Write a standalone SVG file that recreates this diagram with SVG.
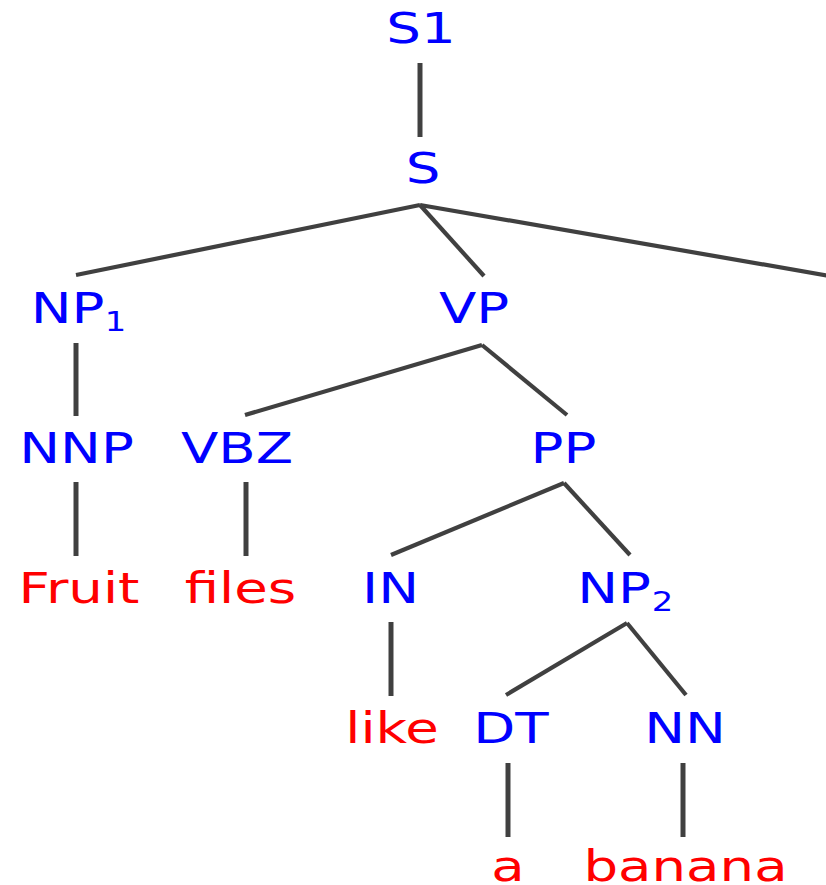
<svg xmlns="http://www.w3.org/2000/svg" width="826" height="885" viewBox="0 0 826 885">
<style>
text{font-family:"DejaVu Sans","Liberation Sans",sans-serif;font-size:42px;text-anchor:middle}
.nt text{fill:#0000ff}
.w text{fill:#ff0000}
text.sub{font-size:26px}
#edges line{stroke:#404040;stroke-width:5;stroke-linecap:butt}
#edges line.d{stroke-width:4.2}
</style>
<rect width="826" height="885" fill="#ffffff"/>
<g id="edges">
<line x1="420" y1="63" x2="420" y2="137"/>
<line class="d" x1="420" y1="205" x2="76" y2="275"/>
<line class="d" x1="420" y1="205" x2="484" y2="276"/>
<line class="d" x1="420" y1="205" x2="830" y2="276"/>
<line x1="76" y1="343" x2="76" y2="416"/>
<line class="d" x1="482" y1="345" x2="245" y2="415"/>
<line class="d" x1="482" y1="345" x2="567" y2="415"/>
<line x1="76" y1="482" x2="76" y2="556"/>
<line x1="246" y1="482" x2="246" y2="556"/>
<line class="d" x1="564" y1="483" x2="391" y2="555"/>
<line class="d" x1="564" y1="483" x2="630" y2="555"/>
<line x1="391" y1="622" x2="391" y2="696"/>
<line class="d" x1="627" y1="623" x2="506" y2="695"/>
<line class="d" x1="627" y1="623" x2="686" y2="695"/>
<line x1="508" y1="763" x2="508" y2="837"/>
<line x1="683" y1="763" x2="683" y2="837"/>
</g>
<g id="S1" class="nt"><text transform="translate(421 43) scale(1.3 1)">S1</text></g>
<g id="S" class="nt"><text transform="translate(423 183) scale(1.3 1)">S</text></g>
<g id="NP1" class="nt"><text transform="translate(67.5 323) scale(1.3 1)">NP</text><text class="sub" transform="translate(115.5 331) scale(1.3 1)">1</text></g>
<g id="VP" class="nt"><text transform="translate(474 323) scale(1.3 1)">VP</text></g>
<g id="NNP" class="nt"><text transform="translate(76.5 463) scale(1.3 1)">NNP</text></g>
<g id="VBZ" class="nt"><text transform="translate(237 463) scale(1.3 1)">VBZ</text></g>
<g id="PP" class="nt"><text transform="translate(563.5 463) scale(1.3 1)">PP</text></g>
<g id="IN" class="nt"><text transform="translate(390.5 603) scale(1.3 1)">IN</text></g>
<g id="NP2" class="nt"><text transform="translate(614 603) scale(1.3 1)">NP</text><text class="sub" transform="translate(662.5 611) scale(1.3 1)">2</text></g>
<g id="DT" class="nt"><text transform="translate(511 743) scale(1.3 1)">DT</text></g>
<g id="NN" class="nt"><text transform="translate(685 743) scale(1.3 1)">NN</text></g>
<g id="Fruit" class="w"><text transform="translate(79 603) scale(1.3 1)">Fruit</text></g>
<g id="files" class="w"><text transform="translate(240.5 603) scale(1.3 1)">files</text></g>
<g id="like" class="w"><text transform="translate(392 743) scale(1.3 1)">like</text></g>
<g id="a" class="w"><text transform="translate(508 881) scale(1.3 1)">a</text></g>
<g id="banana" class="w"><text transform="translate(685.5 881) scale(1.3 1)">banana</text></g>
</svg>
